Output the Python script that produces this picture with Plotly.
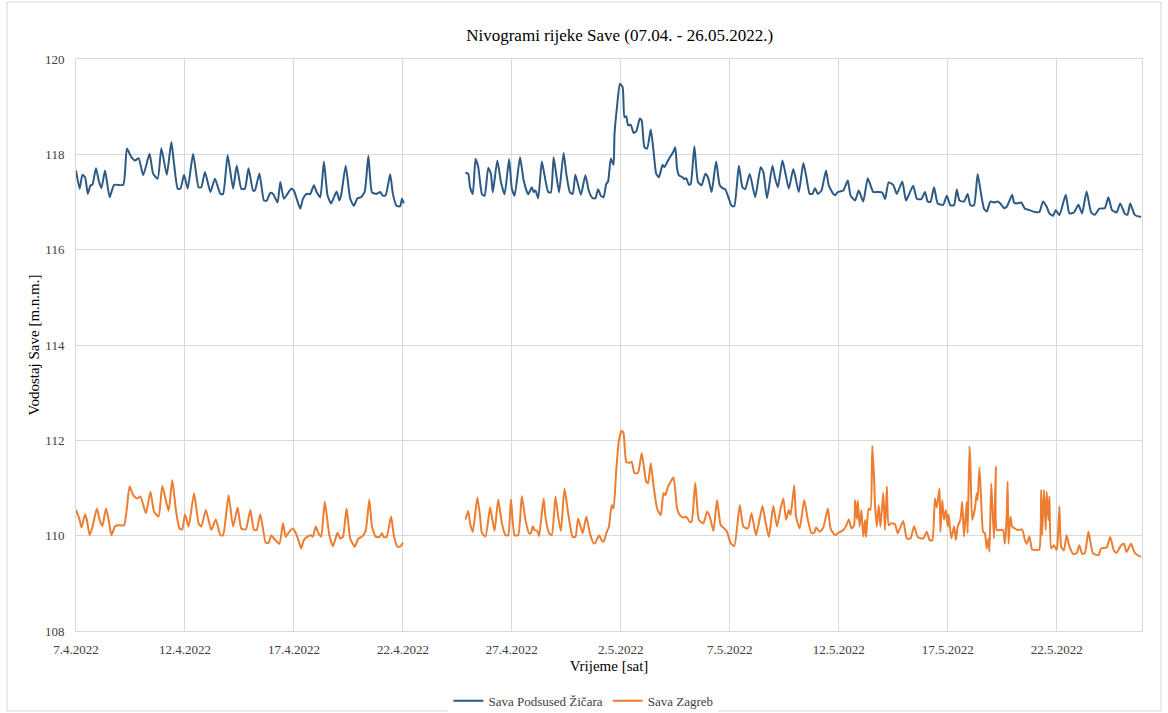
import pandas as pd
import plotly.graph_objects as go

# ---- data (hours since 07.04.2022 00:00, water level m a.s.l.) ----
start = pd.Timestamp("2022-04-07 00:00")

podsused_h = [0, 4, 7, 10, 13, 16, 18, 22, 25, 28, 32, 37, 42, 52, 56, 61, 65, 69, 74, 81, 85, 90, 94, 100, 105, 108, 112, 115, 119, 123, 129, 135, 138, 142, 148, 153, 159, 162, 167, 173, 177, 182, 186, 190, 195, 197, 202, 207, 210, 214, 217, 222, 225, 229, 237, 240, 244, 247, 250, 254, 258, 262, 265, 269, 273, 277, 281, 287, 290, 292, 297, 302, 306, 310, 314, 318, 322, 326, 331, 335, 338, 341, 346, 349, 353, 357, 359, 361,
              None,
              429, 432, 434, 437, 440, 443, 447, 450, 454, 457, 459, 464, 468, 472, 477, 480, 483, 489, 493, 498, 502, 504, 506, 509, 513, 516, 520, 523, 526, 529, 532, 537, 540, 544, 547, 550, 556, 561, 565, 569, 572, 575, 578, 581, 584, 586, 589, 592, 593, 596, 599, 602, 604, 606, 608, 611, 614, 617, 621, 623, 626, 629, 633, 636, 639, 642, 646, 648, 652, 658, 660, 662, 664, 668, 670, 672, 675, 677, 681, 685, 689, 693, 696, 700, 705, 709, 713, 715, 719, 722, 725, 730, 734, 737, 742, 748, 754, 757, 761, 767, 770, 773, 778, 781, 785, 790, 796, 801, 804, 808, 811, 814, 817, 821, 826, 829, 834, 836, 839, 845, 850, 853, 858, 862, 867, 872, 878, 883, 888, 891, 895, 900, 904, 910, 914, 917, 922, 926, 931, 935, 938, 941, 945, 949, 955, 959, 963, 967, 970, 973, 978, 982, 985, 989, 993, 997, 1000, 1003, 1007, 1011, 1015, 1018, 1022, 1025, 1031, 1033, 1036, 1041, 1045, 1050, 1056, 1061, 1065, 1069, 1072, 1076, 1079, 1083, 1090, 1094, 1099, 1104, 1108, 1113, 1118, 1122, 1127, 1133, 1137, 1141, 1146, 1150, 1155, 1158, 1161, 1166, 1172, 1173]
podsused_v = [117.66, 117.28, 117.57, 117.52, 117.17, 117.35, 117.36, 117.71, 117.45, 117.29, 117.66, 117.10, 117.36, 117.36, 118.12, 117.94, 117.87, 117.92, 117.56, 118.01, 117.59, 117.49, 118.13, 117.57, 118.26, 117.80, 117.28, 117.28, 117.57, 117.28, 118.01, 117.31, 117.31, 117.63, 117.21, 117.49, 117.17, 117.17, 117.98, 117.28, 117.76, 117.28, 117.28, 117.71, 117.24, 117.24, 117.60, 117.03, 117.03, 117.19, 117.17, 116.99, 117.42, 117.07, 117.28, 117.24, 117.01, 116.86, 117.07, 117.17, 117.17, 117.35, 117.21, 117.10, 117.85, 117.14, 116.97, 117.22, 117.03, 117.14, 117.76, 117.07, 116.92, 117.08, 117.10, 117.22, 117.97, 117.20, 117.17, 117.21, 117.13, 117.14, 117.58, 117.17, 116.92, 116.91, 117.07, 116.97,
              None,
              117.62, 117.59, 117.31, 117.17, 117.90, 117.73, 117.17, 117.13, 117.72, 117.59, 117.20, 117.87, 117.42, 117.16, 117.90, 117.28, 117.13, 117.94, 117.45, 117.16, 117.31, 117.21, 117.24, 117.08, 117.85, 117.56, 117.21, 117.20, 117.94, 117.56, 117.20, 118.03, 117.59, 117.20, 117.17, 117.57, 117.15, 117.56, 117.22, 117.08, 117.08, 117.27, 117.13, 117.10, 117.38, 117.43, 117.91, 117.78, 118.40, 119.03, 119.48, 119.41, 118.78, 118.80, 118.61, 118.62, 118.45, 118.48, 118.75, 118.71, 118.15, 118.12, 118.52, 118.08, 117.59, 117.52, 117.78, 117.73, 117.87, 118.06, 118.15, 117.70, 117.56, 117.52, 117.48, 117.50, 117.36, 117.38, 118.17, 117.42, 117.35, 117.59, 117.52, 117.21, 117.85, 117.35, 117.28, 117.27, 117.07, 116.92, 116.91, 117.76, 117.31, 117.27, 117.59, 117.10, 117.73, 117.63, 117.08, 117.76, 117.49, 117.31, 117.87, 117.63, 117.28, 117.69, 117.21, 117.82, 117.56, 117.17, 117.17, 117.29, 117.17, 117.24, 117.66, 117.35, 117.17, 117.14, 117.21, 117.24, 117.45, 117.14, 117.03, 117.24, 117.01, 117.50, 117.21, 117.21, 117.20, 117.06, 117.41, 117.36, 117.17, 117.43, 117.03, 117.14, 117.34, 117.07, 117.06, 117.21, 117.01, 117.00, 117.31, 116.97, 116.94, 117.13, 116.93, 116.93, 117.26, 117.03, 117.01, 117.17, 116.93, 116.93, 117.59, 117.14, 116.86, 116.80, 117.01, 116.99, 117.01, 116.97, 116.87, 116.90, 117.15, 116.99, 116.97, 116.99, 116.86, 116.83, 116.79, 116.79, 117.01, 116.90, 116.76, 116.71, 116.83, 116.72, 117.15, 116.76, 116.78, 116.94, 116.76, 117.22, 116.78, 116.73, 116.86, 116.87, 117.10, 116.83, 116.78, 116.97, 116.76, 116.73, 116.97, 116.73, 116.69, 116.69]

zagreb_h = [0, 4, 6, 10, 12, 15, 18, 23, 26, 29, 33, 36, 39, 43, 47, 53, 59, 63, 67, 71, 77, 82, 86, 91, 95, 102, 106, 110, 114, 117, 120, 124, 130, 135, 138, 143, 149, 154, 159, 162, 168, 173, 178, 182, 187, 192, 196, 199, 203, 209, 212, 215, 218, 224, 228, 231, 234, 239, 243, 246, 248, 251, 255, 259, 261, 264, 267, 270, 274, 279, 283, 288, 291, 294, 298, 302, 307, 311, 315, 319, 323, 326, 330, 334, 337, 339, 342, 347, 350, 354, 357, 360,
            None,
            429, 432, 434, 437, 442, 445, 447, 451, 456, 458, 461, 465, 469, 473, 476, 479, 483, 487, 491, 495, 499, 501, 503, 505, 508, 510, 515, 517, 521, 524, 528, 531, 534, 538, 542, 547, 550, 553, 558, 562, 566, 570, 572, 576, 579, 581, 584, 587, 590, 592, 595, 598, 601, 603, 606, 609, 612, 615, 619, 623, 628, 630, 633, 636, 640, 644, 647, 649, 652, 658, 662, 665, 669, 672, 676, 678, 682, 686, 691, 695, 698, 702, 706, 710, 714, 717, 721, 725, 731, 735, 740, 744, 749, 756, 759, 763, 768, 772, 776, 779, 782, 785, 787, 791, 793, 797, 802, 806, 810, 813, 815, 819, 823, 828, 831, 836, 839, 845, 848, 851, 854, 857, 858, 860, 861, 863, 865, 867, 869, 870, 873, 875, 877, 879, 880, 882, 884, 886, 889, 891, 893, 895, 898, 902, 905, 911, 915, 919, 923, 927, 933, 937, 940, 943, 946, 948, 951, 952, 954, 956, 958, 960, 961, 964, 967, 969, 971, 974, 976, 978, 981, 982, 984, 985, 987, 990, 992, 993, 995, 997, 999, 1001, 1003, 1005, 1006, 1008, 1011, 1013, 1014, 1018, 1021, 1023, 1025, 1026, 1027, 1029, 1031, 1034, 1037, 1042, 1045, 1047, 1050, 1053, 1058, 1061, 1063, 1064, 1066, 1068, 1069, 1071, 1072, 1074, 1077, 1080, 1081, 1083, 1085, 1088, 1091, 1094, 1098, 1102, 1105, 1108, 1111, 1115, 1120, 1126, 1129, 1135, 1139, 1143, 1146, 1151, 1154, 1157, 1162, 1166, 1171, 1173]
zagreb_v = [110.54, 110.33, 110.17, 110.45, 110.33, 110.01, 110.17, 110.57, 110.33, 110.20, 110.57, 110.33, 110.01, 110.20, 110.22, 110.22, 111.03, 110.85, 110.78, 110.82, 110.47, 110.92, 110.50, 110.40, 111.04, 110.52, 111.17, 110.54, 110.15, 110.13, 110.45, 110.19, 110.89, 110.26, 110.19, 110.54, 110.12, 110.34, 110.01, 110.01, 110.85, 110.19, 110.59, 110.15, 110.13, 110.54, 110.12, 110.12, 110.45, 109.85, 109.85, 110.01, 109.94, 109.83, 110.26, 109.97, 110.06, 110.15, 110.01, 109.84, 109.73, 109.91, 109.98, 110.01, 109.98, 110.19, 110.05, 109.98, 110.71, 110.01, 109.78, 110.06, 109.94, 109.98, 110.57, 109.94, 109.77, 109.94, 109.98, 110.10, 110.76, 110.19, 109.98, 109.97, 110.05, 109.97, 109.97, 110.40, 110.01, 109.77, 109.77, 109.85,
            None,
            110.34, 110.52, 110.26, 110.08, 110.80, 110.40, 110.06, 109.98, 110.59, 110.40, 110.10, 110.76, 110.26, 110.01, 110.01, 110.76, 110.01, 110.01, 110.83, 110.33, 110.05, 110.05, 110.20, 110.12, 110.10, 109.99, 110.78, 110.40, 110.05, 110.01, 110.82, 110.40, 110.10, 110.99, 110.47, 109.97, 109.97, 110.36, 110.05, 110.40, 110.05, 109.84, 109.85, 110.01, 109.90, 109.87, 110.05, 110.20, 110.64, 110.57, 111.38, 112.01, 112.20, 112.15, 111.55, 111.53, 111.55, 111.31, 111.32, 111.73, 111.13, 111.10, 111.52, 111.06, 110.57, 110.43, 110.89, 110.85, 111.03, 111.22, 110.57, 110.43, 110.38, 110.40, 110.29, 110.29, 111.11, 110.33, 110.26, 110.50, 110.40, 110.10, 110.75, 110.22, 110.15, 110.08, 109.84, 109.78, 110.64, 110.19, 110.15, 110.47, 110.01, 110.62, 110.33, 109.97, 110.62, 110.19, 110.57, 110.78, 110.33, 110.54, 110.43, 111.06, 110.40, 110.15, 110.75, 110.33, 110.05, 110.06, 110.17, 110.08, 110.17, 110.57, 110.15, 110.01, 110.05, 110.12, 110.20, 110.34, 110.15, 110.22, 110.75, 110.35, 110.73, 110.19, 110.54, 109.98, 110.33, 109.97, 110.57, 110.54, 111.88, 111.17, 110.64, 110.19, 110.64, 110.19, 110.90, 110.12, 111.03, 110.22, 110.26, 110.24, 110.05, 110.31, 109.94, 109.94, 110.20, 109.97, 109.94, 110.08, 109.91, 109.90, 110.78, 110.59, 110.99, 110.08, 110.75, 110.33, 110.54, 110.19, 110.45, 109.94, 110.20, 109.91, 110.19, 110.34, 110.71, 109.98, 110.71, 110.05, 111.87, 111.52, 110.33, 110.57, 110.89, 110.75, 111.43, 110.68, 110.08, 110.05, 109.73, 109.94, 109.66, 111.10, 109.94, 111.45, 110.12, 110.12, 110.12, 109.83, 110.43, 111.13, 109.83, 110.40, 110.19, 110.15, 110.12, 110.13, 109.91, 109.83, 109.98, 109.71, 109.70, 109.71, 110.96, 110.01, 110.96, 110.12, 110.92, 110.33, 110.82, 109.73, 109.80, 109.70, 109.84, 110.61, 109.77, 109.69, 110.01, 109.78, 109.62, 109.63, 109.80, 109.62, 109.63, 110.08, 109.63, 109.59, 109.73, 109.75, 109.97, 109.69, 109.64, 109.80, 109.83, 109.66, 109.83, 109.64, 109.57, 109.57]

tick_dates = ["2022-04-07", "2022-04-12", "2022-04-17", "2022-04-22", "2022-04-27", "2022-05-02",
              "2022-05-07", "2022-05-12", "2022-05-17", "2022-05-22"]
tick_labels = ["7.4.2022", "12.4.2022", "17.4.2022", "22.4.2022", "27.4.2022", "2.5.2022",
               "7.5.2022", "12.5.2022", "17.5.2022", "22.5.2022"]
y_ticks = [108, 110, 112, 114, 116, 118, 120]

series_names = ["Sava Podsused Žičara", "Sava Zagreb"]
colors = ["#2C5A85", "#ED7D31"]


def to_time(hours):
    return [None if h is None else start + pd.Timedelta(hours=h) for h in hours]


FONT = "Liberation Serif"
fig = go.Figure()
for name, hs, vs, col in [(series_names[0], podsused_h, podsused_v, colors[0]),
                          (series_names[1], zagreb_h, zagreb_v, colors[1])]:
    fig.add_trace(go.Scatter(x=to_time(hs), y=vs, mode="lines", name=name,
                             connectgaps=False,
                             line=dict(color=col, width=2, shape="spline", smoothing=0.5)))

x_end = start + pd.Timedelta(hours=1174)

fig.update_layout(
    width=1168, height=713,
    margin=dict(l=76, r=26, t=59, b=82, autoexpand=False),
    paper_bgcolor="white", plot_bgcolor="white",
    font=dict(family=FONT, color="#404040", size=13),
    title=dict(text="Nivogrami rijeke Save (07.04. - 26.05.2022.)",
               x=0.51, xref="paper", xanchor="center", y=0.951, yanchor="middle",
               font=dict(family=FONT, size=17, color="#000000")),
    showlegend=True,
    legend=dict(orientation="h", x=0.476, xanchor="center", y=-0.122, yanchor="middle",
                font=dict(family=FONT, size=13, color="#404040"),
                itemwidth=30, tracegroupgap=0),
    xaxis=dict(type="date", range=[start, x_end], automargin=False,
               tickvals=[pd.Timestamp(d) for d in tick_dates], ticktext=tick_labels,
               showgrid=True, gridcolor="#D9D9D9", gridwidth=1,
               showline=True, linecolor="#D9D9D9", mirror=True,
               ticks="outside", ticklen=6, tickcolor="rgba(0,0,0,0)",
               tickfont=dict(family=FONT, size=13, color="#404040"),
               title=dict(text="Vrijeme [sat]", standoff=4,
                          font=dict(family=FONT, size=15, color="#000000")),
               zeroline=False),
    yaxis=dict(range=[108, 120], tickvals=y_ticks, automargin=False,
               showgrid=True, gridcolor="#D9D9D9", gridwidth=1,
               showline=True, linecolor="#D9D9D9", mirror=True,
               ticks="outside", ticklen=8, tickcolor="rgba(0,0,0,0)",
               tickfont=dict(family=FONT, size=13, color="#404040"),
               title=dict(text="Vodostaj Save [m.n.m.]", standoff=1,
                          font=dict(family=FONT, size=15, color="#000000")),
               zeroline=False),
)

# outer chart border
fig.add_shape(type="rect", xref="paper", yref="paper",
              x0=-0.0647, x1=1.0178, y0=-0.1399, y1=1.0997,
              line=dict(color="#D9D9D9", width=1), fillcolor="rgba(0,0,0,0)", layer="below")

fig.write_html("out.html", config={"displayModeBar": False},
               post_script="document.body.style.margin='0';document.body.style.padding='0';")
